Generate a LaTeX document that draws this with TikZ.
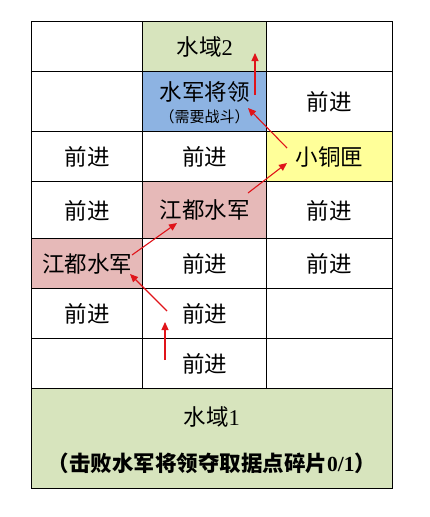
\documentclass[tikz,border=0pt]{standalone}
\usepackage{fontspec}
\setmainfont{Noto Sans CJK SC}
\newfontfamily\lat{Liberation Serif}
\usetikzlibrary{arrows.meta}
\definecolor{cgreen}{HTML}{D7E4BD}
\definecolor{cblue}{HTML}{8DB3E2}
\definecolor{cpink}{HTML}{E6B9B8}
\definecolor{cyellow}{HTML}{FFFF99}
\definecolor{cred}{HTML}{E0141A}
\tikzset{
  cell/.style={draw=black, line width=0.9pt, inner sep=0pt, outer sep=0pt, font=\fontsize{22.5}{26}\selectfont, text depth=0pt, yshift=0pt},
  wa/.style={minimum width=111pt},
  wb/.style={minimum width=124pt},
  wc/.style={minimum width=125.3pt},
  ha/.style={minimum height=50pt},
  hb/.style={minimum height=60pt},
  hc/.style={minimum height=57pt},
  path/.style={cred, line width=1.1pt, -{Triangle[length=8pt,width=7pt]}},
  txt/.style={inner sep=0pt},
}
\begin{document}
\begin{tikzpicture}[x=1pt,y=-1pt]
\useasboundingbox (0,0) rectangle (430,517);
% row 1
\node[cell,wa,ha] (a1) at (87.2,46) {};
\node[cell,wb,ha,fill=cgreen] (b1) at (204.7,46) {水域{\lat 2}};
\node[cell,wc,ha] (c1) at (329.35,46) {};
% row 2
\node[cell,wa,hb] (a2) at (87.2,101) {};
\node[cell,wb,hb,fill=cblue] (b2) at (204.7,101) {};
\node[txt,font=\fontsize{22.5}{26}\selectfont] (b2t) at (204.7,92) {水军将领};
\node[txt,font=\fontsize{15}{18}\selectfont] (b2s) at (204.7,117) {（需要战斗）};
\node[cell,wc,hb] (c2) at (329.35,101) {前进};
% row 3
\node[cell,wa,ha] (a3) at (87.2,156) {前进};
\node[cell,wb,ha] (b3) at (204.7,156) {前进};
\node[cell,wc,ha,fill=cyellow] (c3) at (329.35,156) {小铜匣};
% row 4
\node[cell,wa,hc] (a4) at (87.2,209.5) {前进};
\node[cell,wb,hc,fill=cpink] (b4) at (204.7,209.5) {江都水军};
\node[cell,wc,hc] (c4) at (329.35,209.5) {前进};
% row 5
\node[cell,wa,ha,fill=cpink] (a5) at (87.2,263) {江都水军};
\node[cell,wb,ha] (b5) at (204.7,263) {前进};
\node[cell,wc,ha] (c5) at (329.35,263) {前进};
% row 6
\node[cell,wa,ha] (a6) at (87.2,313) {前进};
\node[cell,wb,ha] (b6) at (204.7,313) {前进};
\node[cell,wc,ha] (c6) at (329.35,313) {};
% row 7
\node[cell,wa,ha] (a7) at (87.2,363) {};
\node[cell,wb,ha] (b7) at (204.7,363) {前进};
\node[cell,wc,ha] (c7) at (329.35,363) {};
% bottom
\node[cell,minimum width=360.3pt,minimum height=100pt,fill=cgreen] (w1) at (211.85,438) {};
\node[txt,font=\fontsize{22.5}{26}\selectfont] (w1t) at (211.85,417) {水域{\lat 1}};
\node[txt,font=\fontsize{21.5}{26}\selectfont\bfseries] (w1s) at (211.85,463) {（击败水军将领夺取据点碎片{\lat\bfseries 0/1}）};
% path
\coordinate (p0) at (165,360);
\coordinate (p1) at (165,322);
\coordinate (q0) at (167,311);
\coordinate (q1) at (130,274);
\coordinate (r0) at (132,255);
\coordinate (r1) at (177,223);
\coordinate (s0) at (248,193);
\coordinate (s1) at (287,163);
\coordinate (t0) at (287,148);
\coordinate (t1) at (248,108);
\coordinate (u0) at (255,95);
\coordinate (u1) at (255,53);
\draw[path] (p0) -- (p1);
\draw[path] (q0) -- (q1);
\draw[path] (r0) -- (r1);
\draw[path] (s0) -- (s1);
\draw[path] (t0) -- (t1);
\draw[path] (u0) -- (u1);
\end{tikzpicture}
\end{document}
